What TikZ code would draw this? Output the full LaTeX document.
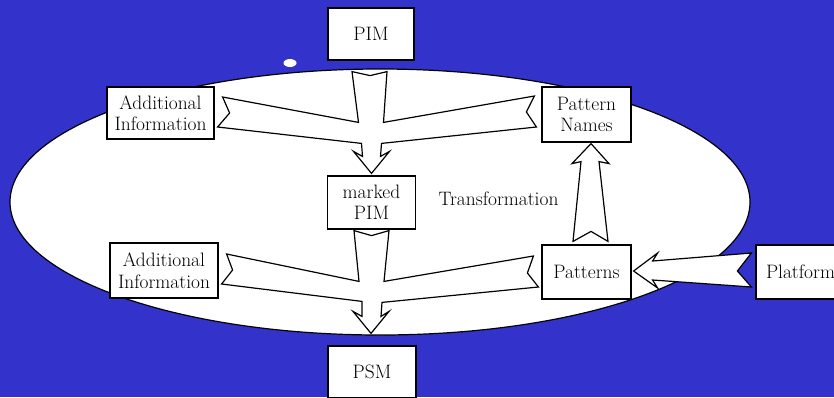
\documentclass[tikz,border=0pt]{standalone}
\usepackage{fontspec}
\usepackage{tikz}
\usetikzlibrary{positioning}
\definecolor{slideblue}{RGB}{51,51,204}

\begin{document}
\begin{tikzpicture}[x=1bp, y=-1bp,
    font=\fontsize{19.5}{21.5}\selectfont,
    box/.style={draw=black, fill=white, line width=1.2bp, align=center,
                inner sep=0pt, minimum height=53bp},
    blockarrow/.style={draw=black, fill=white, line width=1.2bp, line join=miter}]

    % background and frame
    \useasboundingbox (0,0) rectangle (834,397);
    \fill[slideblue] (0,0) rectangle (834,397);

    % the transformation area
    \draw[fill=white, line width=1.2bp] (380,202) ellipse [x radius=370, y radius=133];
    \fill[white] (290,63) ellipse [x radius=6.5, y radius=4];

    % models and inputs
    \node[box, minimum width=86bp, minimum height=52bp] (pim) at (371,34) {PIM};
    \node[box, minimum width=107bp, minimum height=52bp] (addtop) at (160.5,113) {Additional\\Information};
    \node[box, minimum width=88bp] (mpim) at (371.5,202.5) {marked\\PIM};
    \node[box, minimum width=89bp, minimum height=55bp] (pnames) at (586.5,114.5) {Pattern\\Names};
    \node[box, minimum width=108bp, minimum height=55bp] (addbot) at (164,270.5) {Additional\\Information};
    \node[box, minimum width=89bp, minimum height=54bp] (patterns) at (586.5,272) {Patterns};
    \node[box, minimum width=89bp, minimum height=54bp] (platform) at (800.5,272) {Platform};
    \node[box, minimum width=88bp, minimum height=52bp] (psm) at (372,372) {PSM};
    \node (trans) at (498.5,199) {Transformation};

    % upper merging arrow: PIM + Additional Information + Pattern Names -> marked PIM
    \draw[blockarrow] ([shift={(-19,11)}]pim.south) -- ([shift={(-1,15)}]pim.south)
        -- ([shift={(16,11)}]pim.south) -- ([shift={(12,-53)}]mpim.north)
        -- ([shift={(-7,-18.5)}]pnames.west) -- ([shift={(-15,-2.5)}]pnames.west)
        -- ([shift={(-5,12.5)}]pnames.west) -- ([shift={(10,-32)}]mpim.north)
        -- ([shift={(9,-19)}]mpim.north) -- ([shift={(18,-24)}]mpim.north)
        -- ([shift={(0,-2)}]mpim.north) -- ([shift={(-18,-24)}]mpim.north)
        -- ([shift={(-9,-19)}]mpim.north) -- ([shift={(-10,-32)}]mpim.north)
        -- ([shift={(3,14)}]addtop.east) -- ([shift={(15,0)}]addtop.east)
        -- ([shift={(8,-16)}]addtop.east) -- ([shift={(-13,-53)}]mpim.north) -- cycle;

    % lower merging arrow: marked PIM + Additional Information + Patterns -> PSM
    \draw[blockarrow] ([shift={(-17.5,1)}]mpim.south) -- ([shift={(0,6)}]mpim.south)
        -- ([shift={(17.5,1)}]mpim.south) -- ([shift={(12,-64)}]psm.north)
        -- ([shift={(-8,-16)}]patterns.west) -- ([shift={(-14,1)}]patterns.west)
        -- ([shift={(-3,15)}]patterns.west) -- ([shift={(10,-43)}]psm.north)
        -- ([shift={(9,-29)}]psm.north) -- ([shift={(17,-34)}]psm.north)
        -- ([shift={(-1,-12)}]psm.north) -- ([shift={(-19,-34)}]psm.north)
        -- ([shift={(-10,-29)}]psm.north) -- ([shift={(-10,-44)}]psm.north)
        -- ([shift={(3,13.5)}]addbot.east) -- ([shift={(14,-0.5)}]addbot.east)
        -- ([shift={(8,-16.5)}]addbot.east) -- ([shift={(-13,-64)}]psm.north) -- cycle;

    % Patterns -> Pattern Names
    \draw[blockarrow] ([shift={(4.5,1)}]pnames.south) -- ([shift={(22.5,21)}]pnames.south)
        -- ([shift={(12.5,19)}]pnames.south) -- ([shift={(21.5,-3)}]patterns.north)
        -- ([shift={(4.5,-13)}]patterns.north) -- ([shift={(-13.5,-3)}]patterns.north)
        -- ([shift={(-5.5,19)}]pnames.south) -- ([shift={(-14.5,21)}]pnames.south) -- cycle;

    % Platform -> Patterns
    \draw[blockarrow] ([shift={(2,-1)}]patterns.east) -- ([shift={(26,-19)}]patterns.east)
        -- ([shift={(21,-11)}]patterns.east) -- ([shift={(-4,-19)}]platform.west)
        -- ([shift={(-18,-1)}]platform.west) -- ([shift={(-4,15)}]platform.west)
        -- ([shift={(21,8)}]patterns.east) -- ([shift={(26,16)}]patterns.east) -- cycle;

\end{tikzpicture}
\end{document}
